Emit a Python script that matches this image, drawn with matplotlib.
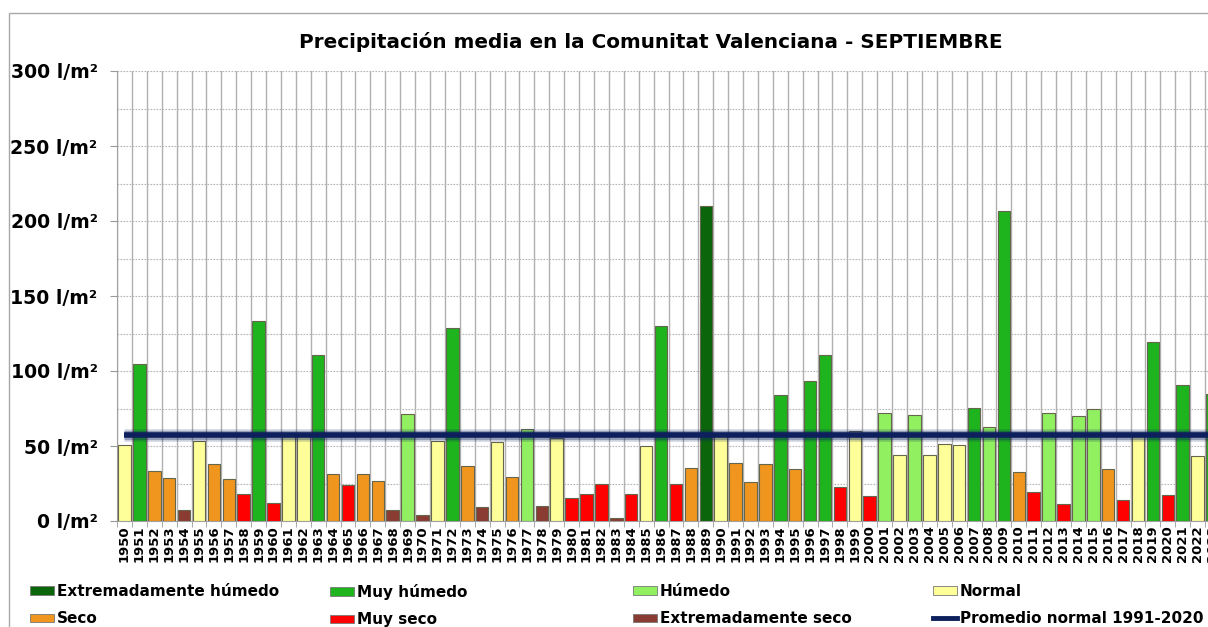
import numpy as np
import matplotlib
matplotlib.use('Agg')
import matplotlib.pyplot as plt
import matplotlib.patheffects as pe
from matplotlib.patches import Patch, Rectangle
from matplotlib.lines import Line2D

# datos: precipitacion media de septiembre (l/m2) por año
years = list(range(1950, 2024))
precip = [51, 105, 33.6, 29, 7.6, 53.3, 37.8, 27.8, 18.2, 133.3,
          12.2, 57, 57, 111, 31.6, 23.8, 31.6, 26.5, 7.1, 71.6,
          4, 53.3, 128.7, 36.7, 9.6, 52.9, 29.1, 61.6, 10, 55.1,
          15.1, 18.2, 24.7, 2, 18.2, 49.8, 129.8, 24.7, 35.1, 209.8,
          57, 38.7, 26.2, 37.8, 84.2, 34.7, 93.6, 110.7, 22.7, 60.2,
          16.7, 72.2, 44.2, 70.9, 43.8, 51.6, 50.7, 75.4, 62.9, 207,
          32.7, 19.1, 71.8, 11.1, 69.8, 74.9, 34.9, 14, 59, 119.6,
          17.6, 90.9, 43.6, 84.9]
# EH extremadamente humedo, MH muy humedo, H humedo, N normal,
# S seco, MS muy seco, ES extremadamente seco
clase = ['N', 'MH', 'S', 'S', 'ES', 'N', 'S', 'S', 'MS', 'MH',
         'MS', 'N', 'N', 'MH', 'S', 'MS', 'S', 'S', 'ES', 'H',
         'ES', 'N', 'MH', 'S', 'ES', 'N', 'S', 'H', 'ES', 'N',
         'MS', 'MS', 'MS', 'ES', 'MS', 'N', 'MH', 'MS', 'S', 'EH',
         'N', 'S', 'S', 'S', 'MH', 'S', 'MH', 'MH', 'MS', 'N',
         'MS', 'H', 'N', 'H', 'N', 'N', 'N', 'MH', 'H', 'MH',
         'S', 'MS', 'H', 'MS', 'H', 'H', 'S', 'MS', 'N', 'MH',
         'MS', 'MH', 'N', 'MH']
promedio = 57.6

clases = ['EH', 'MH', 'H', 'N', 'S', 'MS', 'ES']
nombres = ['Extremadamente húmedo', 'Muy húmedo', 'Húmedo', 'Normal',
           'Seco', 'Muy seco', 'Extremadamente seco']
colores = {'EH': '#0b650b', 'MH': '#1eb41e', 'H': '#90f060', 'N': '#ffff99',
           'S': '#f0961e', 'MS': '#ff0000', 'ES': '#8b3c32'}
color_linea = '#0d1f5c'

W, H = 1208, 627
fig = plt.figure(figsize=(W / 100, H / 100), dpi=100)
fig.patch.set_facecolor('white')

# el grafico original se sale por la derecha
left, right, top, bottom = 117, 1220, 71, 521
ax = fig.add_axes([left / W, 1 - bottom / H, (right - left) / W, (bottom - top) / H])

x = np.arange(len(years))
bar_cols = [colores[c] for c in clase]
ax.bar(x, precip, width=0.84, color=bar_cols, edgecolor='#66664f', linewidth=0.8, zorder=3)

ax.plot(x, [promedio] * len(x), color=color_linea, lw=4, zorder=4,
        solid_capstyle='butt',
        path_effects=[pe.Stroke(linewidth=9, foreground=color_linea, alpha=0.2),
                      pe.Stroke(linewidth=6.5, foreground=color_linea, alpha=0.3), pe.Normal()])

ax.set_xlim(-0.5, len(x) - 0.5)
ax.set_ylim(0, 300)

yt = np.arange(0, 301, 50)
ax.set_yticks(yt)
ax.set_yticklabels([f'{v} l/m²' for v in yt], fontsize=13.6, fontweight='bold')
ax.set_yticks(np.arange(25, 300, 50), minor=True)
ax.tick_params(axis='y', which='major', length=5, color='#999999', pad=9)
ax.tick_params(axis='y', which='minor', length=0)

ax.set_xticks(x)
ax.set_xticklabels([str(y) for y in years], rotation=90, fontsize=9.5, fontweight='bold')
ax.set_xticks(np.arange(-0.5, len(x), 1), minor=True)
ax.tick_params(axis='x', which='major', length=0, pad=3)
ax.tick_params(axis='x', which='minor', length=4, color='#999999')

ax.grid(axis='x', which='minor', color='#b0b0b0', lw=1, zorder=0)
ax.grid(axis='y', which='both', color='#b4b4b4', lw=0.8, ls=(0, (1.5, 1.2)), zorder=0)
ax.grid(axis='x', which='major', visible=False)
ax.set_axisbelow(True)
for s in ['top', 'right']:
    ax.spines[s].set_visible(False)
for s in ['left', 'bottom']:
    ax.spines[s].set_color('#a0a0a0')

fig.text(651 / W, 1 - 42 / H, 'Precipitación media en la Comunitat Valenciana - SEPTIEMBRE',
         ha='center', va='center', fontsize=14.4, fontweight='bold')

# marco exterior
fig.patches.append(Rectangle((9 / W, -0.1), 1.2, 1 - 13 / H + 0.1, transform=fig.transFigure,
                             fill=False, edgecolor='#a8a8a8', lw=1))

# leyenda en 4 columnas
handles = {c: Patch(facecolor=colores[c], edgecolor='#777777', lw=0.6) for c in clases}
linea = Line2D([0], [0], color=color_linea, lw=3.5)
columnas = [(30, ['EH', 'S']), (330, ['MH', 'MS']), (633, ['H', 'ES']), (933, ['N', None])]
for xpos, cs in columnas:
    hs, ls = [], []
    for c in cs:
        if c is None:
            hs.append(linea)
            ls.append('Promedio normal 1991-2020')
        else:
            hs.append(handles[c])
            ls.append(nombres[clases.index(c)])
    fig.legend(hs, ls, loc='upper left', bbox_to_anchor=(xpos / W, 1 - 584 / H),
               frameon=False, borderpad=0, borderaxespad=0, handlelength=1.6,
               handleheight=0.45, handletextpad=0.15, labelspacing=0.8,
               prop={'size': 11, 'weight': 'bold'})

fig.savefig('out.png', dpi=100)
